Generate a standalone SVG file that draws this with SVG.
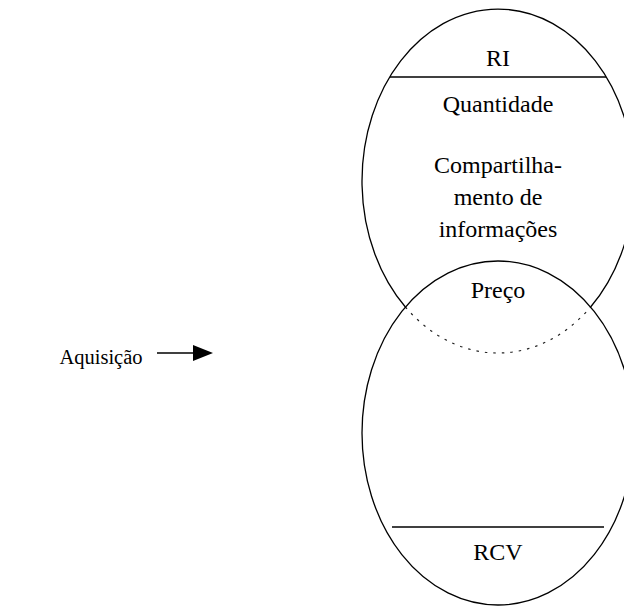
<svg xmlns="http://www.w3.org/2000/svg" width="624" height="607" viewBox="0 0 624 607" font-family="'Liberation Serif', 'Times New Roman', serif">
<style>
text{font-family:"Liberation Serif","Times New Roman",serif;fill:#000;text-anchor:middle}
.t{font-size:24px}
.s{font-size:20.5px}
.solid{fill:none;stroke:#000;stroke-width:1.3}
.dot{fill:none;stroke:#222;stroke-width:1.2;stroke-dasharray:2.5 6}
</style>
<rect width="624" height="607" fill="#fff"/>
<g id="ri">
<path class="solid" d="M405.4,307 A136,172 0 1,1 590.6,307"/>
<path class="dot" d="M405.4,307 A136,172 0 0,0 590.6,307"/>
<line class="solid" x1="390" y1="77" x2="606" y2="77"/>
<text class="t" x="498" y="66">RI</text>
<text class="t" x="498" y="112">Quantidade</text>
<text class="t" x="498" y="173">Compartilha-</text>
<text class="t" x="498" y="205">mento de</text>
<text class="t" x="498" y="237">informações</text>
</g>
<g id="rcv">
<ellipse class="solid" cx="498" cy="433" rx="136" ry="172"/>
<line class="solid" x1="392" y1="527" x2="604" y2="527"/>
<text class="t" x="498" y="298">Preço</text>
<text class="t" x="498" y="560">RCV</text>
</g>
<g id="aquisicao">
<text class="s" x="101" y="364">Aquisição</text>
</g>
<g id="connectors">
<line x1="157" y1="353" x2="193" y2="353" stroke="#000" stroke-width="1.5"/>
<path d="M193,345 L213,353 L193,361 Z" fill="#000"/>
</g>
</svg>
